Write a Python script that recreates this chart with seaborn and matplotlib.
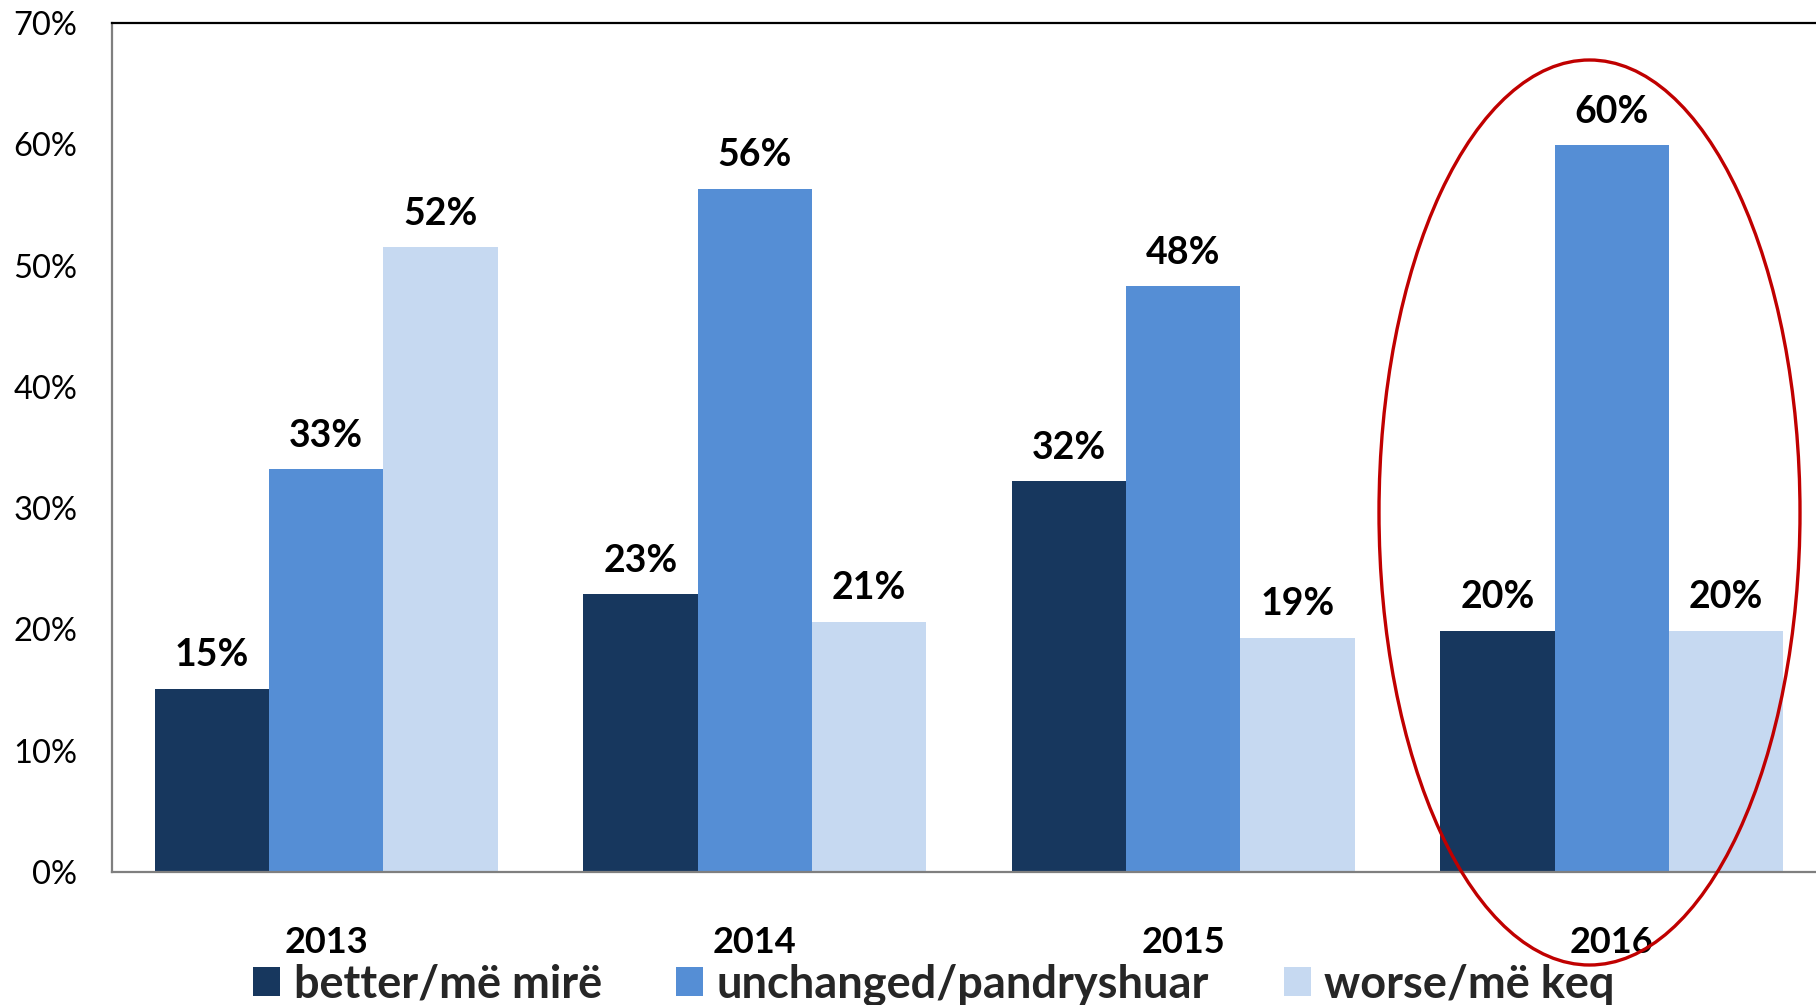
import matplotlib
matplotlib.use("Agg")
import matplotlib.pyplot as plt
from matplotlib.patches import Ellipse
import seaborn as sns
import pandas as pd

years = ["2013", "2014", "2015", "2016"]
series = ["better/më mirë", "unchanged/pandryshuar", "worse/më keq"]
better = [15.1, 22.9, 32.2, 19.9]
unchanged = [33.2, 56.3, 48.3, 59.9]
worse = [51.5, 20.6, 19.3, 19.9]
colors = ["#17375E", "#558ED5", "#C6D9F1"]
yticks = [0, 10, 20, 30, 40, 50, 60, 70]

rows = []
for name, vals in zip(series, [better, unchanged, worse]):
    for y, v in zip(years, vals):
        rows.append({"year": y, "series": name, "value": v})
df = pd.DataFrame(rows)

sns.set_theme(style="white")
plt.rcParams["font.family"] = ["Lato", "DejaVu Sans"]

fig = plt.figure(figsize=(18.16, 10.05), dpi=100)
ax = fig.add_axes([112 / 1816, 133 / 1005, 1714 / 1816, 849 / 1005])

sns.barplot(data=df, x="year", y="value", hue="series", order=years,
            hue_order=series, palette=colors, width=0.8, ax=ax,
            saturation=1, errorbar=None, linewidth=0)

for cont in ax.containers:
    ax.bar_label(cont, labels=[f"{int(v + 0.5)}%" for v in cont.datavalues],
                 padding=12, fontsize=27, fontweight="bold", color="black")

ax.set_xlim(-0.5, 3.5)
ax.set_ylim(0, 70)
ax.set_yticks(yticks)
ax.set_yticklabels([f"{t}%" for t in yticks], fontsize=23.5, color="black")
ax.set_xticks(range(len(years)))
ax.set_xticklabels(years, fontsize=26, fontweight="bold", color="black")
ax.tick_params(axis="y", length=0, pad=25)
ax.tick_params(axis="x", length=0, pad=39)
ax.set_xlabel("")
ax.set_ylabel("")

for s in ["left", "bottom"]:
    ax.spines[s].set_color("#7F7F7F")
    ax.spines[s].set_linewidth(1.6)
ax.spines["top"].set_color("black")
ax.spines["top"].set_linewidth(1.6)
ax.spines["right"].set_visible(False)

handles, labels = ax.get_legend_handles_labels()
ax.legend_.remove()
fig.legend(handles, labels, loc="center left",
           bbox_to_anchor=(253 / 1816, 0.020), bbox_transform=fig.transFigure,
           ncol=3, frameon=False, prop={"family": "Lato", "weight": "bold", "size": 32.5},
           handlelength=0.6, handleheight=0.6, handletextpad=0.3,
           columnspacing=1.65, borderpad=0, borderaxespad=0)

ell = Ellipse((1589.5 / 1816, 1 - 512.5 / 1005), 421 / 1816, 905 / 1005,
              transform=fig.transFigure, fill=False, edgecolor="#C00000", lw=2.4)
fig.add_artist(ell)

fig.savefig("out.png", dpi=100)
